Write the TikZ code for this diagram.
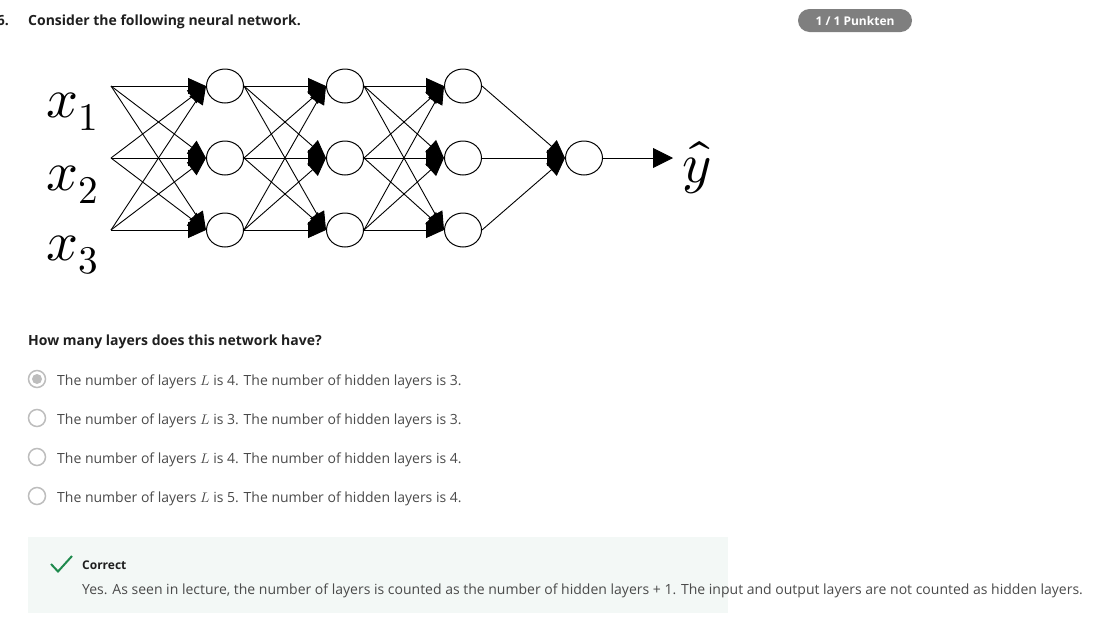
\documentclass[tikz,border=0pt]{standalone}
\usepackage{fontspec}
\usepackage{unicode-math}
\setmainfont{Open Sans}
\setmathfont{Latin Modern Math}
\usetikzlibrary{shapes.geometric, positioning, calc, arrows.meta}
\definecolor{headtext}{HTML}{1F1F1F}
\definecolor{bodytext}{HTML}{4A4A4A}
\definecolor{badgegray}{HTML}{7F7F7F}
\definecolor{radiogray}{HTML}{BDBDBD}
\definecolor{feedbg}{HTML}{F3F8F6}
\definecolor{okgreen}{HTML}{1E8A4D}

\begin{document}
\begin{tikzpicture}[x=1pt, y=-1pt]
    \tikzstyle{neuron}=[draw, ellipse, minimum width=37pt, minimum height=34pt, inner sep=0pt, line width=1pt];
    \tikzstyle{syn}=[-{Triangle[length=18pt,width=16pt]}, line width=0.9pt];
    \tikzstyle{inlabel}=[anchor=base west, inner sep=0pt, font=\fontsize{56}{60}\selectfont];
    \tikzstyle{body}=[anchor=base west, inner sep=0pt, text=bodytext, font=\fontsize{14}{17}\selectfont];
    \tikzstyle{radio}=[draw=radiogray, circle, line width=1.5pt, minimum size=17pt, inner sep=0pt];
    \useasboundingbox (0,0) rectangle (1097,627);

    % header
    \node[anchor=base east, inner sep=0pt, text=headtext, font=\fontsize{14}{17}\bfseries] (qnum) at (9,25) {6.};
    \node[anchor=base west, inner sep=0pt, text=headtext, font=\fontsize{14}{17}\bfseries] (qtext) at (28,25) {Consider the following neural network.};
    \node[fill=badgegray, rounded corners=11.5pt, minimum width=114pt, minimum height=23pt, inner sep=0pt,
      text=white, font=\fontsize{12}{14}\bfseries] (badge) at (855,20.5) {1 / 1 Punkten};

    % inputs
    \coordinate (in1) at (111,86);
    \coordinate (in2) at (111,158);
    \coordinate (in3) at (111,230);
    \node[inlabel] (x1) at (46,117) {$x_1$};
    \node[inlabel] (x2) at (46,190) {$x_2$};
    \node[inlabel] (x3) at (46,260) {$x_3$};

    % hidden layers and output
    \foreach \l/\x in {a/225, b/345, c/463}
      \foreach \i/\y in {1/86, 2/158, 3/230}
        \node[neuron] (\l\i) at (\x,\y) {};
    \node[neuron] (out) at (584,158) {};
    \node[inner sep=0pt, font=\fontsize{56}{60}\selectfont] (yhat) at (697,168) {$\hat{y}$};

    \foreach \i in {1,2,3}
      \foreach \j in {1,2,3} {
        \draw[syn] (in\i) -- (a\j.west);
        \draw[syn] (a\i.east) -- (b\j.west);
        \draw[syn] (b\i.east) -- (c\j.west);
      }
    \foreach \i in {1,2,3}
      \draw[syn] (c\i.east) -- (out.west);
    \draw[-{Triangle[length=20pt,width=20pt]}, line width=0.9pt] (out.east) -- (673,158) coordinate (tip);

    % question
    \node[anchor=base west, inner sep=0pt, text=headtext, font=\fontsize{14}{17}\bfseries] (ask) at (28,345) {How many layers does this network have?};

    \foreach \k/\n/\h/\y in {1/4/3/385, 2/3/3/424, 3/4/4/463, 4/5/4/502} {
      \node[radio] (r\k) at (37,\y-6) {};
      \node[body] (opt\k) at (57,\y) {The number of layers $L$ is \n. The number of hidden layers is \h.};
    }
    \fill[radiogray] (r1) circle (5pt);

    % feedback
    \fill[feedbg] (28,537) rectangle (728,613);
    \draw[okgreen, line width=2pt] (51,564) -- (58,571.5) -- (72,556);
    \node[anchor=base west, inner sep=0pt, text=headtext, font=\fontsize{12}{14}\bfseries] (ok) at (82,569) {Correct};
    \node[body] (why) at (82,594) {Yes. As seen in lecture, the number of layers is counted as the number of hidden layers + 1. The input and output layers are not counted as hidden layers.};
\end{tikzpicture}
\end{document}
